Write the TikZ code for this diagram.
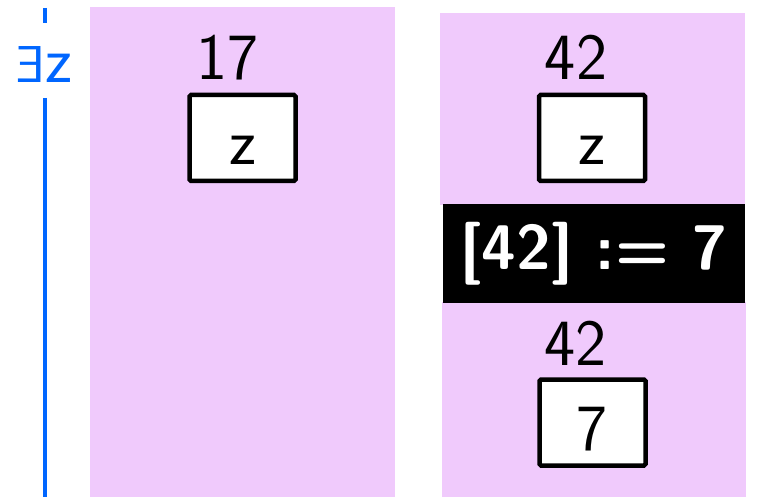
\documentclass[tikz,border=0pt]{standalone}
\usepackage{fontspec}
\usepackage{graphicx}
\begin{document}
\begin{tikzpicture}[x=1pt,y=-1pt,
  cell/.style={draw=black,line width=4.5pt,fill=white,rounded corners=1.5pt,minimum width=106pt,minimum height=86pt,inner sep=0pt},
  big/.style={font=\sffamily\fontsize{66}{66}\selectfont,inner sep=0pt},
  addr/.style={big,anchor=base}]
\definecolor{pinkbg}{RGB}{240,202,252}
\definecolor{scopeblue}{RGB}{0,102,255}
\useasboundingbox (0,0) rectangle (777,497);
% regions
\fill[pinkbg] (90,7) rectangle (395,497);
\fill[pinkbg] (440,13) rectangle (745,205);
\fill[pinkbg] (442,302) rectangle (746,497);
\fill[black] (443,204) rectangle (745,303);
% scope line
\draw[scopeblue,line width=3.8pt] (45,8) -- (45,23);
\draw[scopeblue,line width=3.8pt] (45,98) -- (45,497);
\node[anchor=base west,inner sep=0pt,text=scopeblue,font=\sffamily\fontsize{66}{66}\selectfont] (ez) at (16,83) {{\fontsize{52}{52}\selectfont\reflectbox{E}}z};
% left
\node[addr] (a17) at (227.5,80) {17};
\node[cell] (c1) at (242.5,138) {};
\node[addr] (z1) at (242.5,165) {z};
% right top
\node[addr] (a42a) at (576,80) {42};
\node[cell] (c2) at (592,138) {};
\node[addr] (z2) at (592,165) {z};
% command
\node[anchor=base,inner sep=0pt,text=white,font=\sffamily\bfseries\fontsize{63}{63}\selectfont] (cmd) at (593.5,270) {[42] := 7};
% right bottom
\node[addr] (a42b) at (575.5,365) {42};
\node[cell] (c3) at (592.5,422.5) {};
\node[addr] (v7) at (592.5,450) {7};
\end{tikzpicture}
\end{document}
